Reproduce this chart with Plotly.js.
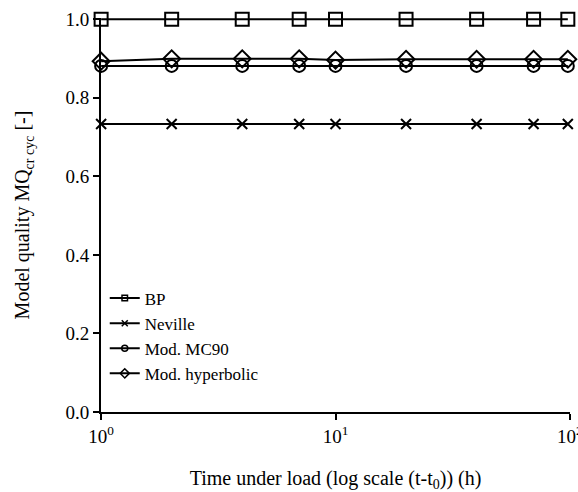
<!DOCTYPE html>
<html>
<head>
<meta charset="utf-8">
<script src="https://cdn.plot.ly/plotly-3.0.1.min.js"></script>
<style>body{margin:0;padding:0;background:#fff;}#chart{width:578px;height:492px;}</style>
</head>
<body>
<div id="chart"></div>
<script>
var timeH = [1, 2, 4, 7, 10, 20, 40, 70, 98];
var bp = [1.0, 1.0, 1.0, 1.0, 1.0, 1.0, 1.0, 1.0, 1.0];
var neville = [0.733, 0.733, 0.733, 0.733, 0.733, 0.733, 0.733, 0.733, 0.733];
var mc90 = [0.881, 0.881, 0.881, 0.881, 0.881, 0.881, 0.881, 0.881, 0.881];
var hyperbolic = [0.893, 0.899, 0.899, 0.899, 0.896, 0.898, 0.898, 0.898, 0.898];
var seriesNames = ["BP", "Neville", "Mod. MC90", "Mod. hyperbolic"];
var xTickVals = [1, 10, 100];
var xTickText = ["10<sup>0</sup>", "10<sup>1</sup>", "10<sup>2</sup>"];
var yTickVals = [0, 0.2, 0.4, 0.6, 0.8, 1.0];

var seriesData = [bp, neville, mc90, hyperbolic];
var symbols = ["square-open", "x-thin-open", "circle-open", "diamond-open"];
var plotSizes = [13, 10, 12, 13];
var legendSizes = [5.5, 6, 6, 7];

var traces = [];
for (var i = 0; i < seriesData.length; i++) {
  traces.push({
    x: timeH, y: seriesData[i], type: 'scatter', mode: 'lines+markers',
    name: seriesNames[i], showlegend: false, cliponaxis: false,
    line: {color: '#000', width: 2},
    marker: {symbol: symbols[i], size: plotSizes[i], color: '#000', line: {color: '#000', width: 2}}
  });
}
// legend-only entries (smaller symbols, as in the reference key); their point lies outside the axes
for (var j = 0; j < seriesData.length; j++) {
  traces.push({
    x: [1], y: [-5], type: 'scatter', mode: 'lines+markers',
    name: seriesNames[j], showlegend: true, hoverinfo: 'skip',
    line: {color: '#000', width: 2},
    marker: {symbol: symbols[j], size: legendSizes[j], color: '#000', line: {color: '#000', width: 1.5}}
  });
}

var fam = '"Liberation Serif", "Times New Roman", serif';
var layout = {
  width: 578, height: 492,
  margin: {l: 101, r: 8, t: 18, b: 80},
  paper_bgcolor: '#fff', plot_bgcolor: '#fff',
  font: {family: fam, size: 18, color: '#000'},
  showlegend: true,
  legend: {x: 0.008, y: 0.052, xanchor: 'left', yanchor: 'bottom', bgcolor: 'rgba(0,0,0,0)',
           font: {family: fam, size: 17, color: '#000'}, tracegroupgap: 0, itemwidth: 30},
  xaxis: {
    type: 'log', range: [-0.0005, 2.0005], tickvals: xTickVals, ticktext: xTickText,
    ticklabeloverflow: 'allow',
    showgrid: false, zeroline: false, showline: true, linecolor: '#000', linewidth: 2,
    ticks: 'outside', ticklen: 6, tickwidth: 2, tickcolor: '#000',
    tickfont: {family: fam, size: 19, color: '#000'},
    title: {text: 'Time under load (log scale (t-t<sub>0</sub>)) (h)', font: {family: fam, size: 20, color: '#000'}, standoff: 35}
  },
  yaxis: {
    range: [0, 1.003], tickvals: yTickVals, tickformat: '.1f',
    showgrid: false, zeroline: false, showline: true, linecolor: '#000', linewidth: 2,
    ticks: 'outside', ticklen: 6, tickwidth: 2, tickcolor: '#000',
    tickfont: {family: fam, size: 19, color: '#000'},
    title: {text: 'Model quality MQ<sub>cr cyc</sub> [-]', font: {family: fam, size: 20, color: '#000'}, standoff: 30}
  }
};
Plotly.newPlot('chart', traces, layout, {displayModeBar: false, staticPlot: true});
</script>
</body>
</html>
